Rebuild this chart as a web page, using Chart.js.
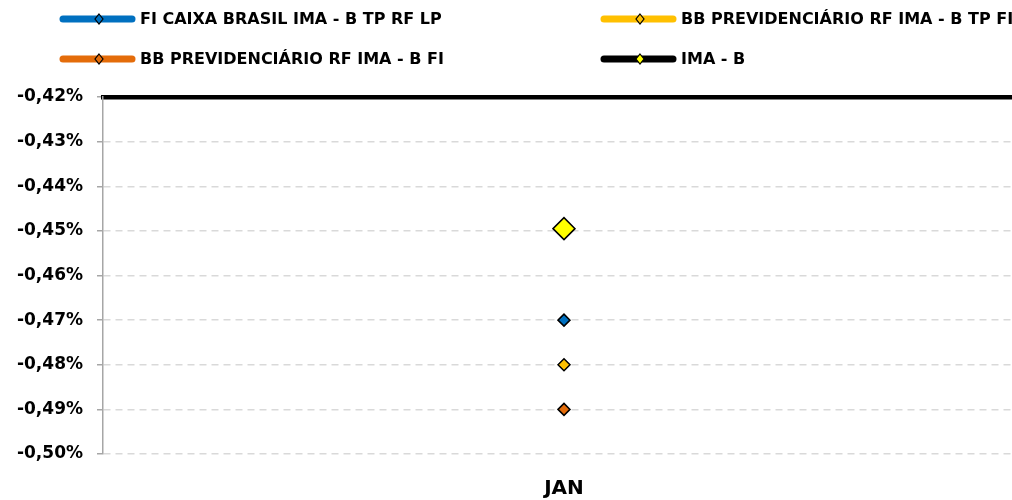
<!DOCTYPE html>
<html lang="pt-BR">
<head>
    <meta charset="UTF-8">
    <title>Rentabilidade JAN</title>
    <script src="https://cdn.jsdelivr.net/npm/chart.js"></script>
    <style>
        body {
            margin: 0;
            overflow: hidden;
            background: #fff;
        }
    </style>
</head>
<body>
    <canvas id="grafico" width="1012" height="500"></canvas>

    <script>
        // dados (em %)
        const meses = ["JAN"];
        const nomes = [
            "FI CAIXA BRASIL IMA - B TP RF LP",
            "BB PREVIDENCIÁRIO RF IMA - B TP FI",
            "BB PREVIDENCIÁRIO RF IMA - B FI",
            "IMA - B"
        ];
        const caixaImaB = [-0.47];
        const bbImaBTp = [-0.48];
        const bbImaB = [-0.49];
        const imaB = [-0.4495];
        const eixoMin = -0.50;
        const eixoMax = -0.42;

        const corLinha = ["#0070C0", "#FFC000", "#E46C0A", "#000000"];
        const corPonto = ["#0070C0", "#FFC000", "#E46C0A", "#FFFF00"];
        const raio = [6, 6, 6, 11];

        const fonte = "'DejaVu Sans', sans-serif";

        function serie(i, valores) {
            return {
                label: nomes[i],
                data: valores,
                borderColor: corLinha[i],
                backgroundColor: corPonto[i],
                pointBackgroundColor: corPonto[i],
                pointBorderColor: "#000",
                pointBorderWidth: 1.5,
                pointStyle: "rectRot",
                pointRadius: raio[i],
                borderWidth: 4,
                showLine: false
            };
        }

        // o grafico original foi cortado a direita: a area de plotagem vai ~13px alem da borda
        const cortePlugin = {
            id: "corteDireita",
            afterLayout(chart) {
                const extra = chart.width + 13 - chart.chartArea.right;
                chart.chartArea.right += extra;
                chart.chartArea.width += extra;
                ["x", "x2"].forEach(id => {
                    const s = chart.scales[id];
                    s.right += extra;
                    s.width += extra;
                    s.configure();
                });
            }
        };

        // legenda desenhada a mao, 2 colunas
        const legendaPlugin = {
            id: "legendaExcel",
            afterDraw(chart) {
                const ctx = chart.ctx;
                const colX = [60, 601];
                const linY = [19, 59];
                ctx.save();
                chart.data.datasets.forEach((ds, i) => {
                    const x = colX[i % 2];
                    const y = linY[Math.floor(i / 2)];
                    // linha
                    ctx.lineCap = "round";
                    ctx.lineWidth = 7;
                    ctx.strokeStyle = corLinha[i];
                    ctx.beginPath();
                    ctx.moveTo(x + 3, y);
                    ctx.lineTo(x + 72, y);
                    ctx.stroke();
                    // losango
                    const cx = x + 39;
                    ctx.fillStyle = corPonto[i];
                    ctx.strokeStyle = "#000";
                    ctx.lineWidth = 1.2;
                    ctx.beginPath();
                    ctx.moveTo(cx, y - 5);
                    ctx.lineTo(cx + 4, y);
                    ctx.lineTo(cx, y + 5);
                    ctx.lineTo(cx - 4, y);
                    ctx.closePath();
                    ctx.fill();
                    ctx.stroke();
                    // texto
                    ctx.fillStyle = "#000";
                    ctx.font = "bold 16px " + fonte;
                    ctx.textBaseline = "middle";
                    ctx.textAlign = "left";
                    ctx.fillText(ds.label, x + 80, y + 1);
                });
                ctx.restore();
            }
        };

        new Chart(document.getElementById("grafico"), {
            type: "line",
            data: {
                labels: meses,
                datasets: [
                    serie(0, caixaImaB),
                    serie(1, bbImaBTp),
                    serie(2, bbImaB),
                    serie(3, imaB)
                ]
            },
            options: {
                responsive: false,
                animation: false,
                layout: { padding: { top: 97, left: 0, right: 0, bottom: 0 } },
                plugins: {
                    legend: { display: false },
                    tooltip: { enabled: false }
                },
                scales: {
                    x: {
                        offset: true,
                        grid: { display: false, drawTicks: false },
                        border: { display: false },
                        ticks: {
                            color: "#000",
                            padding: 23,
                            font: { family: fonte, size: 20, weight: "bold" }
                        },
                        afterFit(scale) { scale.height = 46; }
                    },
                    x2: {
                        position: "top",
                        grid: { display: false, drawTicks: false },
                        border: { display: true, color: "#000", width: 4.5 },
                        ticks: { display: false },
                        afterFit(scale) { scale.height = 0; }
                    },
                    y: {
                        min: eixoMin,
                        max: eixoMax,
                        border: { display: true, color: "#A6A6A6", width: 1.5, dash: [7, 5] },
                        grid: {
                            color: "#D9D9D9",
                            lineWidth: 1.5,
                            tickLength: 6,
                            tickColor: "#A6A6A6",
                            tickBorderDash: []
                        },
                        ticks: {
                            stepSize: 0.01,
                            color: "#000",
                            padding: 14,
                            font: { family: fonte, size: 17, weight: "bold" },
                            callback: v => v.toFixed(2).replace(".", ",") + "%"
                        },
                        afterFit(scale) { scale.width = 103; }
                    }
                }
            },
            plugins: [cortePlugin, legendaPlugin]
        });
    </script>
</body>
</html>
